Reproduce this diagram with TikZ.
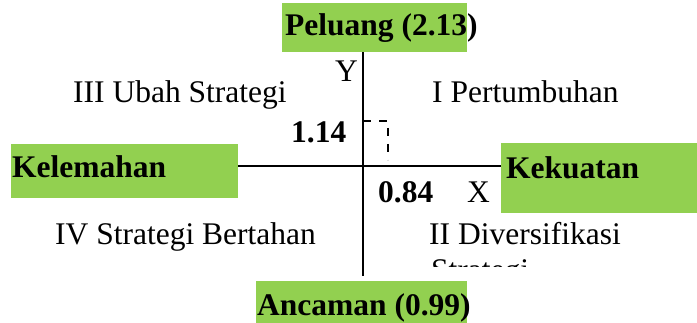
\documentclass[tikz,border=0pt]{standalone}
\usepackage{fontspec}
\setmainfont{Liberation Serif}
\definecolor{boxgreen}{HTML}{92D050}
\newcommand{\swotsize}{\fontsize{31.5}{36}\selectfont}
\tikzset{
  greenbox/.style={fill=boxgreen,inner sep=0pt,anchor=north west},
  quadtext/.style={anchor=base west,inner sep=0pt,font=\swotsize},
  boldtext/.style={anchor=base west,inner sep=0pt,font=\swotsize\bfseries},
  axis/.style={line width=2.4pt},
  guide/.style={line width=2pt,dash pattern=on 8pt off 8pt}
}

\begin{document}
\begin{tikzpicture}[x=1pt,y=-1pt]
      \useasboundingbox (0,0) rectangle (697,323);
      % factor boxes
      \node[greenbox,minimum width=185pt,minimum height=49pt] (peluangbox) at (282,3) {};
      \node[greenbox,minimum width=227pt,minimum height=54pt] (kelemahanbox) at (11,144) {};
      \node[greenbox,minimum width=196pt,minimum height=70pt] (kekuatanbox) at (501,143) {};
      \node[greenbox,minimum width=211pt,minimum height=42pt] (ancamanbox) at (256,281) {};
      \node[boldtext] (peluang) at (285,36) {Peluang (2.13)};
      \node[boldtext] (kelemahan) at (12,178) {Kelemahan};
      \node[boldtext] (kekuatan) at (506,179) {Kekuatan};
      \node[boldtext] (ancaman) at (257,316) {Ancaman (0.99)};
      % axes
      \coordinate (origin) at (363,166);
      \coordinate (ybot) at (363,276);
      \draw[axis] (peluangbox.south -| origin) -- (ybot);
      \draw[axis] (kelemahanbox.east |- origin) -- (kekuatanbox.west |- origin);
      \node[quadtext] (ylab) at (335,82) {Y};
      \node[quadtext] (xlab) at (467,203) {X};
      % point
      \coordinate (mark) at (388,121);
      \coordinate (markfoot) at (388,160);
      \draw[guide] (origin |- mark) -- (mark) -- (markfoot);
      \node[boldtext] (yval) at (291,143) {1.14};
      \node[boldtext] (xval) at (378,203) {0.84};
      % quadrants
      \node[quadtext] (q3) at (73,103) {III Ubah Strategi};
      \node[quadtext] (q1) at (432,103) {I Pertumbuhan};
      \node[quadtext] (q4) at (55,245) {IV Strategi Bertahan};
      \node[quadtext] (q2) at (429,245) {II Diversifikasi};
      \begin{scope}
        \clip (400,250) rectangle (697,267);
        \node[quadtext] (q2b) at (431,281) {Strategi};
      \end{scope}
    \end{tikzpicture}
\end{document}
